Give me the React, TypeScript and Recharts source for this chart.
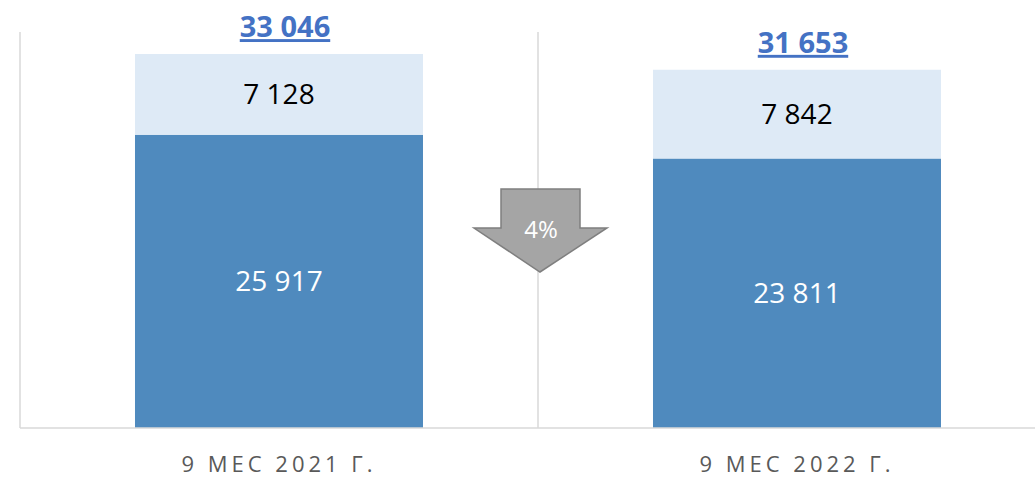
import { BarChart, Bar, XAxis, YAxis, CartesianGrid, LabelList } from "recharts";

const periods = ["9 МЕС 2021 Г.", "9 МЕС 2022 Г."];
const baseValues = [25917, 23811];
const topValues = [7128, 7842];
const totals = [33046, 31653];
const changeLabel = "4%";

const DARK = "#4f8abe";
const LIGHT = "#deeaf6";
const FONT = "'Open Sans', sans-serif";

const data = periods.map((name, i) => ({ name, base: baseValues[i], top: topValues[i], total: totals[i] }));

const fmt = (v: number) => String(v).replace(/\B(?=(\d{3})+(?!\d))/g, " ");

const PeriodTick = ({ x, y, payload }: any) => (
    <text x={x} y={y} dy={36} textAnchor="middle" fill="#595959" fontSize={22} letterSpacing={4} fontFamily={FONT}>
        {payload.value}
    </text>
);

const TotalLabel = ({ x, y, width, index }: any) => (
    <text x={x + width / 2 + 6} y={y - 17} textAnchor="middle" fill="#4472c4" fontSize={29} fontWeight="bold" fontFamily={FONT} textDecoration="underline">
        {fmt(totals[index])}
    </text>
);

export default function App() {
    return (
        <div style={{ position: "fixed", left: 0, top: 0, width: 1035, height: 478, overflow: "hidden", background: "#fff" }}>
            <BarChart width={1070} height={478} data={data} margin={{ top: 32, right: 14, left: 20, bottom: 0 }} barCategoryGap="22.2%">
                <CartesianGrid
                    horizontal={false}
                    stroke="#d9d9d9"
                    strokeWidth={1.5}
                    verticalCoordinatesGenerator={({ offset }: any) => {
                        const step = offset.width / periods.length;
                        return periods.map((_, i) => offset.left + i * step).concat(offset.left + offset.width);
                    }}
                />
                <XAxis dataKey="name" height={50} axisLine={{ stroke: "#d9d9d9", strokeWidth: 1.5 }} tickLine={false} tick={<PeriodTick />} interval={0} />
                <YAxis hide domain={[0, 35000]} />
                <Bar dataKey="base" stackId="a" fill={DARK} isAnimationActive={false}>
                    <LabelList dataKey="base" position="center" fill="#fff" fontSize={28} fontFamily={FONT} formatter={(v: any) => fmt(v)} />
                </Bar>
                <Bar dataKey="top" stackId="a" fill={LIGHT} isAnimationActive={false}>
                    <LabelList dataKey="top" position="center" fill="#000" fontSize={28} fontFamily={FONT} formatter={(v: any) => fmt(v)} />
                    <LabelList dataKey="total" content={<TotalLabel />} />
                </Bar>
            </BarChart>
            <svg width={1035} height={478} style={{ position: "absolute", left: 0, top: 0, pointerEvents: "none" }}>
                <polygon points="501,189 580,189 580,228 607,228 540,272 474,228 501,228" fill="#a5a5a5" stroke="#7f7f7f" strokeWidth={1.5} />
                <text x={541} y={238} textAnchor="middle" fill="#fff" fontSize={24} fontFamily={FONT}>{changeLabel}</text>
            </svg>
        </div>
    );
}
